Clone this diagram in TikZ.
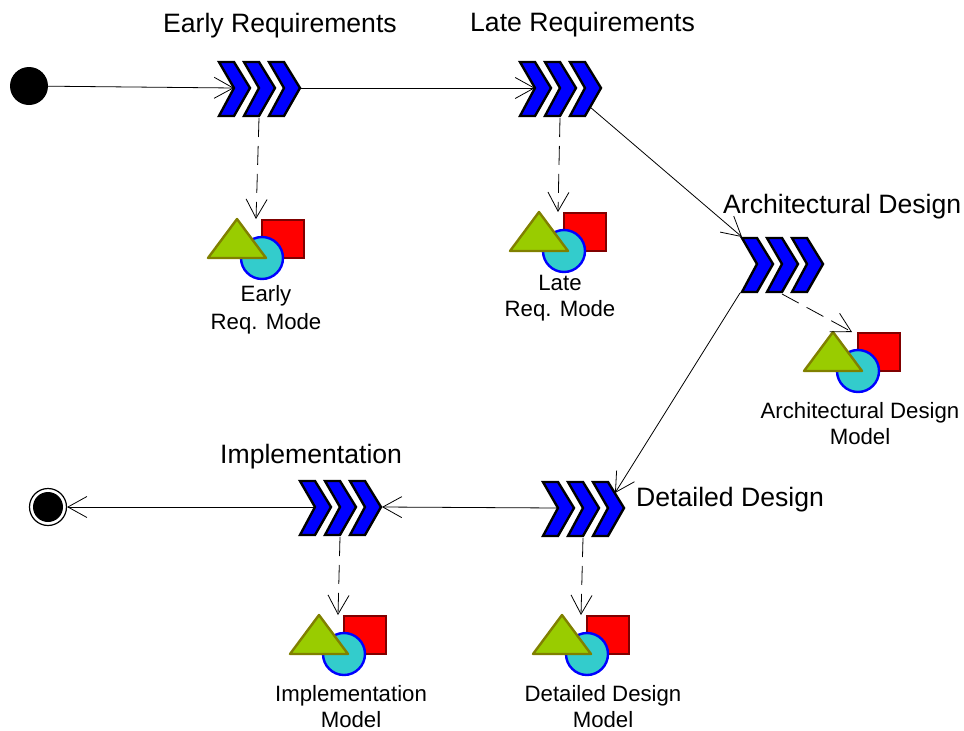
\documentclass[tikz,border=0pt]{standalone}
\usepackage{fontspec}
\setmainfont{Liberation Sans}
\usetikzlibrary{arrows.meta}
\definecolor{phaseblue}{RGB}{0,0,255}
\definecolor{modelred}{RGB}{255,0,0}
\definecolor{modeldred}{RGB}{128,0,0}
\definecolor{modelcyan}{RGB}{51,204,204}
\definecolor{modelgreen}{RGB}{153,204,0}
\definecolor{modelolive}{RGB}{128,128,0}
\tikzset{
  flow/.style={draw=black,line width=0.8pt,-{Straight Barb[length=19pt,width=21pt,line width=0.8pt,black]}},
  dep/.style={flow,dash pattern=on 19pt off 9pt},
  title/.style={font=\fontsize{26.6}{30}\selectfont,inner sep=0pt},
  label/.style={font=\fontsize{22.2}{26}\selectfont,inner sep=0pt,align=center},
  chevron/.pic={
   \foreach \i in {0,25,50}
    \draw[fill=phaseblue,line width=2.4pt,line join=miter] (\i+1,-26) -- ++(15,0) -- ++(16,26) -- ++(-16,28) -- ++(-15,0) -- ++(15,-28) -- cycle;
   \coordinate (-in) at (16,0);
   \coordinate (-out) at (83,0);
   \coordinate (-foot) at (41,30);
   \coordinate (-nw) at (1,-27);
   \coordinate (-sw) at (-1,29);
   \coordinate (-high) at (73,-15);
   \coordinate (-low) at (71,19);
  },
  model/.pic={
   \draw[fill=modelred,draw=modeldred,line width=2.6pt] (25,1) rectangle (67,39);
   \draw[fill=modelcyan,draw=phaseblue,line width=2.4pt] (25,39) circle[radius=21];
   \draw[fill=modelgreen,draw=modelolive,line width=2.4pt,line join=round] (0,0) -- (29,39) -- (-29,39) -- cycle;
   \coordinate (-top) at (19,0);
  },
}
\begin{document}
\begin{tikzpicture}[x=1pt,y=-1pt]
  \useasboundingbox (0,0) rectangle (964,731);

  \node[circle,fill=black,inner sep=0pt,minimum size=38pt] (start) at (29,86) {};
  \node[circle,draw=black,line width=1.2pt,inner sep=0pt,minimum size=37pt] (stop) at (48,507) {};
  \node[circle,fill=black,inner sep=0pt,minimum size=30pt] (stopdot) at (48,507) {};

  \path (218,88) pic (early) {chevron};
  \path (519,88) pic (late) {chevron};
  \path (741,264) pic (arch) {chevron};
  \path (542,508) pic (detail) {chevron};
  \path (299,507) pic (impl) {chevron};

  \path (237,219) pic (earlym) {model};
  \path (539,212) pic (latem) {model};
  \path (833,332) pic (archm) {model};
  \path (562,615) pic (detailm) {model};
  \path (319,615) pic (implm) {model};

  \node[title,anchor=base west] (earlyt) at (163,32) {Early Requirements};
  \node[title,anchor=base west] (latet) at (470,31) {Late Requirements};
  \node[title,anchor=base west] (archt) at (723,213) {Architectural Design};
  \node[title,anchor=base west] (detailt) at (636,506) {Detailed Design};
  \node[title,anchor=base west] (implt) at (220,463) {Implementation};

  \node[label] (earlyl) at (266,310) {Early\\[2pt]Req. Mode};
  \node[label] (latel) at (560,298) {Late\\Req. Mode};
  \node[label] (archl) at (860,424) {Architectural Design\\Model};
  \node[label] (detaill) at (603,707) {Detailed Design\\Model};
  \node[label] (impll) at (351,707) {Implementation\\Model};

  \draw[flow] (start) -- (early-in);
  \draw[flow] (early-out) -- (late-in);
  \draw[flow] (late-low) -- (arch-nw);
  \draw[flow] (arch-sw) -- (detail-high);
  \draw[flow] (detail-in) -- (impl-out);
  \draw[flow] (impl-in) -- (stop);

  \draw[dep] (early-foot) -- (earlym-top);
  \draw[dep] (late-foot) -- (latem-top);
  \draw[dep] (arch-foot) -- (archm-top);
  \draw[dep] (detail-foot) -- (detailm-top);
  \draw[dep] (impl-foot) -- (implm-top);
\end{tikzpicture}
\end{document}
